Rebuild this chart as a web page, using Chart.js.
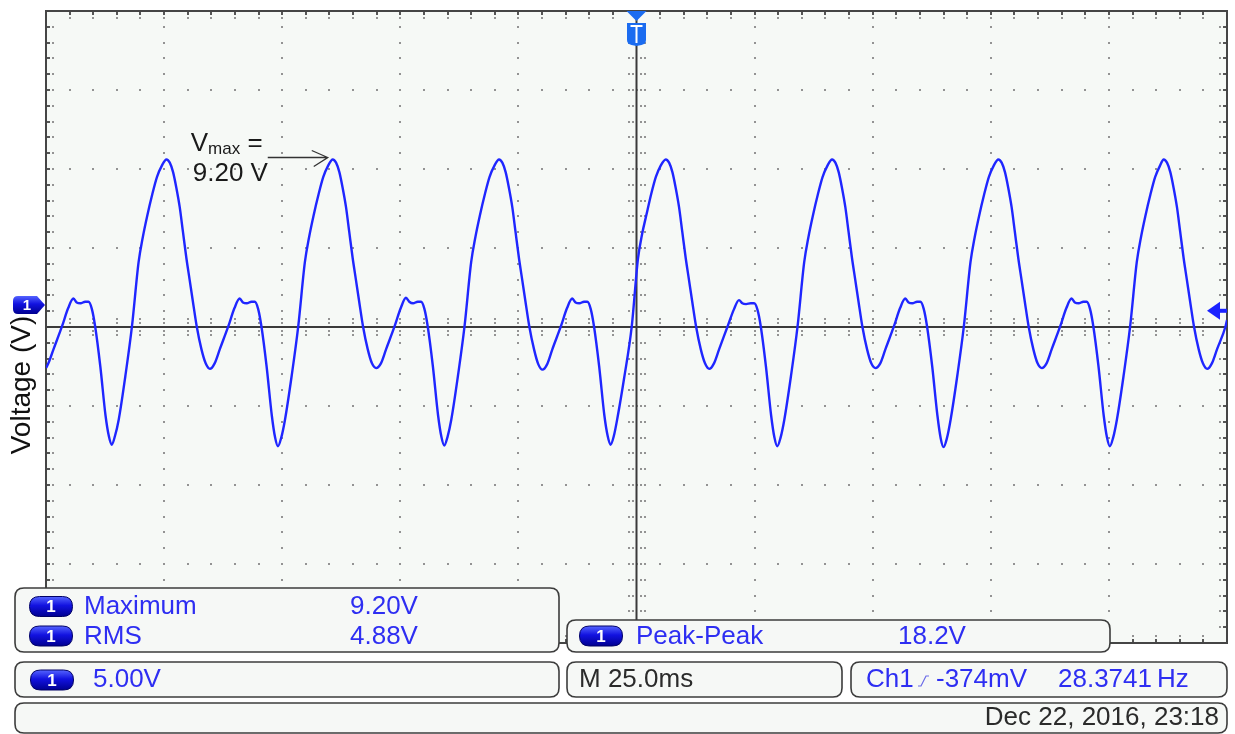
<!DOCTYPE html>
<html>
<head>
<meta charset="utf-8">
<script src="https://cdn.jsdelivr.net/npm/chart.js@4/dist/chart.umd.min.js"></script>
<style>
  html, body { margin: 0; padding: 0; background: #ffffff; }
  #wrap { width: 1235px; height: 734px; position: relative; }
</style>
</head>
<body>
<div id="wrap"><canvas id="scope" width="1235" height="734"></canvas></div>
<script>
// ---------------- data ----------------
// time (ms, trigger at 0) and channel-1 voltage (V), one line per signal cycle
const timeMs = [
  -125.0, -124.5, -123.4, -121.6, -120.3, -119.2, -118.5, -117.7, -116.7, -116.0, -115.3, -114.6, -113.5, -112.4, -111.7, -111.1, -110.4, -109.6, -108.2, -106.8, -105.4, -104.5, -103.6, -102.5, -101.5, -100.5,
  -99.5, -98.8, -98.1, -97.4, -96.7, -96.0, -95.3, -94.6, -93.9, -93.1, -92.1, -91.2, -90.3, -89.3, -88.2, -86.4, -85.1, -84.0, -83.3, -82.5, -81.5, -80.8, -80.1, -79.4, -78.3, -77.2, -76.5, -75.9, -75.2, -74.4, -73.0, -71.6, -70.2, -69.3, -68.4, -67.3, -66.3, -65.3,
  -64.3, -63.6, -62.9, -62.2, -61.5, -60.8, -60.1, -59.4, -58.7, -57.9, -56.9, -56.0, -55.1, -54.1, -53.0, -51.2, -49.9, -48.8, -48.1, -47.3, -46.3, -45.6, -44.9, -44.2, -43.1, -42.0, -41.3, -40.7, -40.0, -39.2, -37.8, -36.4, -35.0, -34.1, -33.2, -32.1, -31.1, -30.1,
  -29.1, -28.4, -27.7, -27.0, -26.3, -25.6, -24.9, -24.2, -23.5, -22.7, -21.7, -20.8, -19.9, -18.9, -17.8, -16.0, -14.7, -13.6, -12.9, -12.1, -11.1, -10.4, -9.7, -9.0, -7.9, -6.8, -6.1, -5.5, -4.8, -4.0, -2.6, -1.0, 0.3, 1.2, 2.1, 3.1, 4.1, 5.1,
  6.2, 6.9, 7.6, 8.3, 9.0, 9.7, 10.4, 11.1, 11.8, 12.6, 13.6, 14.5, 15.4, 16.4, 17.5, 19.3, 20.6, 21.7, 22.4, 23.2, 24.2, 24.9, 25.6, 26.3, 27.4, 28.5, 29.2, 29.8, 30.5, 31.3, 32.7, 34.1, 35.5, 36.4, 37.3, 38.4, 39.4, 40.4,
  41.4, 42.1, 42.8, 43.5, 44.2, 44.9, 45.6, 46.3, 47.0, 47.8, 48.8, 49.7, 50.6, 51.6, 52.7, 54.5, 55.8, 56.9, 57.6, 58.4, 59.4, 60.1, 60.8, 61.5, 62.6, 63.7, 64.4, 65.0, 65.7, 66.5, 67.9, 69.3, 70.7, 71.6, 72.5, 73.6, 74.6, 75.6,
  76.6, 77.3, 78.0, 78.7, 79.4, 80.1, 80.8, 81.5, 82.2, 83.0, 84.0, 84.9, 85.8, 86.8, 87.9, 89.7, 91.0, 92.1, 92.8, 93.6, 94.6, 95.3, 96.0, 96.7, 97.8, 98.9, 99.6, 100.2, 100.9, 101.7, 103.1, 104.5, 105.9, 106.8, 107.7, 108.8, 109.8, 110.8,
  111.6, 112.3, 113.0, 113.7, 114.4, 115.1, 115.8, 116.5, 117.2, 118.0, 119.0, 119.9, 120.8, 121.8, 122.9, 124.7, 125.0
];
const voltageV = [
  -4.0, -3.7, -2.8, -1.35, -0.2, 0.4, 0.15, 0.1, 0.2, 0.2, -0.25, -1.35, -3.9, -7.0, -8.3, -8.85, -8.3, -7.25, -4.5, -1.35, 2.7, 4.3, 5.6, 7.0, 8.1, 8.8,
  9.2, 9.0, 8.4, 7.4, 6.2, 4.6, 3.0, 1.6, 0.2, -1.35, -2.8, -3.7, -4.05, -3.7, -2.8, -1.35, -0.2, 0.4, 0.15, 0.1, 0.2, 0.2, -0.25, -1.35, -3.9, -7.0, -8.4, -8.95, -8.4, -7.25, -4.5, -1.35, 2.7, 4.3, 5.6, 7.0, 8.1, 8.8,
  9.2, 9.0, 8.4, 7.4, 6.2, 4.6, 3.0, 1.6, 0.2, -1.35, -2.8, -3.7, -4.0, -3.7, -2.8, -1.35, -0.2, 0.45, 0.2, 0.1, 0.2, 0.2, -0.25, -1.35, -3.9, -7.0, -8.35, -8.9, -8.35, -7.25, -4.5, -1.35, 2.7, 4.3, 5.6, 7.0, 8.1, 8.8,
  9.2, 9.0, 8.4, 7.4, 6.2, 4.6, 3.0, 1.6, 0.2, -1.35, -2.8, -3.75, -4.1, -3.75, -2.8, -1.35, -0.2, 0.4, 0.15, 0.1, 0.2, 0.2, -0.25, -1.35, -3.9, -7.0, -8.3, -8.85, -8.3, -7.1, -4.6, -1.35, 2.9, 4.5, 5.7, 7.0, 8.1, 8.8,
  9.2, 9.0, 8.4, 7.4, 6.2, 4.6, 3.0, 1.6, 0.2, -1.35, -2.8, -3.7, -4.05, -3.7, -2.8, -1.35, -0.3, 0.3, 0.1, 0.05, 0.1, 0.1, -0.3, -1.35, -3.9, -7.0, -8.4, -8.95, -8.4, -7.25, -4.5, -1.35, 2.7, 4.3, 5.6, 7.0, 8.1, 8.8,
  9.2, 9.0, 8.4, 7.4, 6.2, 4.6, 3.0, 1.6, 0.2, -1.35, -2.8, -3.7, -4.0, -3.7, -2.8, -1.35, -0.2, 0.4, 0.15, 0.1, 0.2, 0.2, -0.25, -1.35, -3.9, -7.0, -8.45, -9.0, -8.45, -7.25, -4.5, -1.35, 2.7, 4.3, 5.6, 7.0, 8.1, 8.8,
  9.2, 9.0, 8.4, 7.4, 6.2, 4.6, 3.0, 1.6, 0.2, -1.35, -2.8, -3.7, -4.0, -3.7, -2.8, -1.35, -0.2, 0.4, 0.15, 0.1, 0.2, 0.2, -0.25, -1.35, -3.9, -7.0, -8.4, -8.95, -8.4, -7.25, -4.5, -1.35, 2.7, 4.3, 5.6, 7.0, 8.1, 8.8,
  9.2, 9.0, 8.4, 7.4, 6.2, 4.6, 3.0, 1.6, 0.2, -1.35, -2.8, -3.7, -4.05, -3.7, -2.8, -1.35, -0.95
];

// screen geometry (values, not pixels): 25 ms/div x 10 div, 5 V/div x 8 div
const xRange = [-125, 125];
const yRange = [-21.4, 18.6];
const xDiv = 25, yDiv = 5, minorPerDiv = 5;

// texts
const yAxisTitle = 'Voltage (V)';
const measureLabels = ['Maximum', 'RMS', 'Peak-Peak'];
const measureValues = ['9.20V', '4.88V', '18.2V'];
const channelScale = '5.00V';
const timebase = 'M 25.0ms';
const trigChannel = 'Ch1';
const trigLevelText = '-374mV';
const trigLevelV = -0.374;
const freqValue = '28.3741';
const freqUnit = 'Hz';
const stamp = 'Dec 22, 2016, 23:18';
const annotMain = 'V', annotSub = 'max', annotEq = ' =', annotValue = '9.20 V';
const vmaxValue = 9.2, vmaxTime = -64.3;

// ---------------- drawing helpers ----------------
function rr(ctx, x, y, w, h, r) {
  ctx.beginPath();
  ctx.moveTo(x + r, y);
  ctx.lineTo(x + w - r, y); ctx.quadraticCurveTo(x + w, y, x + w, y + r);
  ctx.lineTo(x + w, y + h - r); ctx.quadraticCurveTo(x + w, y + h, x + w - r, y + h);
  ctx.lineTo(x + r, y + h); ctx.quadraticCurveTo(x, y + h, x, y + h - r);
  ctx.lineTo(x, y + r); ctx.quadraticCurveTo(x, y, x + r, y);
  ctx.closePath();
}
function blueGrad(ctx, y0, y1) {
  const g = ctx.createLinearGradient(0, y0, 0, y1);
  g.addColorStop(0, '#5565ff'); g.addColorStop(0.45, '#1212e0'); g.addColorStop(1, '#000090');
  return g;
}
function badge(ctx, cx, cy) {
  const w = 43, h = 20;
  rr(ctx, cx - w / 2, cy - h / 2, w, h, h / 2);
  ctx.fillStyle = blueGrad(ctx, cy - h / 2, cy + h / 2); ctx.fill();
  ctx.strokeStyle = '#000066'; ctx.lineWidth = 1; ctx.stroke();
  ctx.fillStyle = '#ffffff'; ctx.font = 'bold 17px "Liberation Sans"';
  ctx.textAlign = 'center'; ctx.textBaseline = 'middle';
  ctx.fillText('1', cx, cy + 1);
}
function panel(ctx, x, y, w, h) {
  rr(ctx, x, y, w, h, 9);
  ctx.fillStyle = '#f6f8f6'; ctx.fill();
  ctx.strokeStyle = '#3c3c3c'; ctx.lineWidth = 1.6; ctx.stroke();
}
function txt(ctx, s, x, y, color, align) {
  ctx.fillStyle = color; ctx.font = '26px "Liberation Sans"';
  ctx.textAlign = align || 'left'; ctx.textBaseline = 'middle';
  ctx.fillText(s, x, y);
  return ctx.measureText(s).width;
}

const scopePlugin = {
  id: 'scope',
  beforeDraw(chart) {
    const { ctx, chartArea: a, scales: { x, y } } = chart;
    ctx.save();
    ctx.fillStyle = '#ffffff'; ctx.fillRect(0, 0, chart.width, chart.height);
    ctx.fillStyle = '#f6f9f6'; ctx.fillRect(a.left, a.top, a.right - a.left, a.bottom - a.top);
    const nx = (xRange[1] - xRange[0]) / xDiv * minorPerDiv;
    const ny = (yRange[1] - yRange[0]) / yDiv * minorPerDiv;
    const xs = [], ys = [];
    for (let i = 0; i <= nx; i++) xs.push(x.getPixelForValue(xRange[0] + i * xDiv / minorPerDiv));
    for (let j = 0; j <= ny; j++) ys.push(y.getPixelForValue(yRange[0] + j * yDiv / minorPerDiv));
    const ic = nx / 2, jc = ny / 2;
    const xc = xs[ic], yc = ys[jc];
    const dot = (px, py) => ctx.fillRect(Math.round(px) - 1, Math.round(py) - 1, 2, 2);
    ctx.fillStyle = '#939393';
    for (let i = minorPerDiv; i < nx; i += minorPerDiv) {
      if (i === ic) continue;
      for (let j = 1; j < ny; j++) dot(xs[i], ys[j]);
    }
    for (let j = minorPerDiv; j < ny; j += minorPerDiv) {
      if (j === jc) continue;
      for (let i = 1; i < nx; i++) dot(xs[i], ys[j]);
    }
    for (let i = 1; i < nx; i++) {
      if (i === ic) continue;
      [-8, -4, 4, 8].forEach(d => dot(xs[i], yc + d));
    }
    for (let j = 1; j < ny; j++) {
      if (j === jc) continue;
      [-8, -4, 4, 8].forEach(d => dot(xc + d, ys[j]));
    }
    ctx.fillStyle = '#555555';
    for (let j = 1; j < ny; j++) {
      ctx.fillRect(a.left, Math.round(ys[j]) - 1, 4, 2);
      ctx.fillRect(a.right - 4, Math.round(ys[j]) - 1, 4, 2);
    }
    for (let i = 1; i < nx; i++) {
      ctx.fillRect(Math.round(xs[i]) - 1, a.top, 2, 4);
      ctx.fillRect(Math.round(xs[i]) - 1, a.bottom - 4, 2, 4);
    }
    ctx.fillStyle = '#939393';
    for (let j = 1; j < ny; j++) { dot(a.left + 7, ys[j]); dot(a.right - 7, ys[j]); }
    for (let i = 1; i < nx; i++) { dot(xs[i], a.top + 7); dot(xs[i], a.bottom - 7); }
    ctx.strokeStyle = '#3a3a3a'; ctx.lineWidth = 2;
    ctx.beginPath();
    ctx.moveTo(a.left, yc); ctx.lineTo(a.right, yc);
    ctx.moveTo(xc, a.top); ctx.lineTo(xc, a.bottom);
    ctx.stroke();
    ctx.strokeStyle = '#454545'; ctx.lineWidth = 2;
    ctx.strokeRect(a.left, a.top, a.right - a.left, a.bottom - a.top);
    ctx.restore();
  },
  afterDatasetsDraw(chart) {
    const { ctx, chartArea: a, scales: { x, y } } = chart;
    ctx.save();
    // trigger position marker (top, at t = 0)
    const xt = x.getPixelForValue(0);
    ctx.fillStyle = '#1b6cf0';
    ctx.beginPath();
    ctx.moveTo(xt - 10, a.top); ctx.lineTo(xt + 10, a.top); ctx.lineTo(xt, a.top + 10); ctx.closePath(); ctx.fill();
    ctx.beginPath();
    ctx.moveTo(xt - 9.5, a.top + 12); ctx.lineTo(xt + 9.5, a.top + 12);
    ctx.lineTo(xt + 9.5, a.top + 29); ctx.quadraticCurveTo(xt + 9.5, a.top + 33, xt + 5, a.top + 34);
    ctx.lineTo(xt, a.top + 35); ctx.lineTo(xt - 5, a.top + 34);
    ctx.quadraticCurveTo(xt - 9.5, a.top + 33, xt - 9.5, a.top + 29); ctx.closePath(); ctx.fill();
    ctx.fillStyle = '#ffffff';
    ctx.fillRect(xt - 6, a.top + 14, 12, 2);
    ctx.fillRect(xt - 1, a.top + 14, 2, 18);

    // channel 1 ground marker (left)
    const yg = y.getPixelForValue(0);
    ctx.beginPath();
    ctx.moveTo(18, yg - 9); ctx.lineTo(37, yg - 9); ctx.lineTo(45, yg); ctx.lineTo(37, yg + 9);
    ctx.lineTo(18, yg + 9); ctx.quadraticCurveTo(13, yg + 9, 13, yg + 4); ctx.lineTo(13, yg - 4);
    ctx.quadraticCurveTo(13, yg - 9, 18, yg - 9); ctx.closePath();
    ctx.fillStyle = blueGrad(ctx, yg - 9, yg + 9); ctx.fill();
    ctx.fillStyle = '#ffffff'; ctx.font = 'bold 15px "Liberation Sans"';
    ctx.textAlign = 'center'; ctx.textBaseline = 'middle'; ctx.fillText('1', 27, yg + 1);

    // trigger level marker (right)
    const yl = y.getPixelForValue(trigLevelV);
    ctx.fillStyle = '#1a22ff';
    ctx.beginPath(); ctx.moveTo(a.right - 20, yl); ctx.lineTo(a.right - 7, yl - 9); ctx.lineTo(a.right - 7, yl + 9); ctx.closePath(); ctx.fill();
    ctx.fillRect(a.right - 8, yl - 2, 8, 4);

    // V max annotation
    const px = x.getPixelForValue(vmaxTime), py = y.getPixelForValue(vmaxValue) - 2;
    ctx.strokeStyle = '#333333'; ctx.lineWidth = 1.3;
    ctx.beginPath();
    ctx.moveTo(px - 65, py); ctx.lineTo(px - 5, py);
    ctx.moveTo(px - 21, py - 7); ctx.lineTo(px - 5, py); ctx.lineTo(px - 19, py + 9);
    ctx.stroke();
    ctx.fillStyle = '#1a1a1a'; ctx.textAlign = 'left'; ctx.textBaseline = 'alphabetic';
    ctx.font = '26px "Liberation Sans"';
    const ax = px - 142;
    ctx.fillText(annotMain, ax, py - 7);
    const wV = ctx.measureText(annotMain).width;
    ctx.font = '17px "Liberation Sans"';
    ctx.fillText(annotSub, ax + wV, py - 4);
    const wS = ctx.measureText(annotSub).width;
    ctx.font = '26px "Liberation Sans"';
    ctx.fillText(annotEq, ax + wV + wS, py - 7);
    ctx.fillText(annotValue, ax + 2, py + 23);

    // y-axis title
    ctx.save();
    ctx.translate(22, 385); ctx.rotate(-Math.PI / 2);
    ctx.fillStyle = '#111111'; ctx.font = '28px "Liberation Sans"';
    ctx.textAlign = 'center'; ctx.textBaseline = 'middle';
    ctx.fillText(yAxisTitle, 0, 0);
    ctx.restore();

    // measurement / status panels
    const blue = '#2e2ef2', dark = '#2b2b2b';
    panel(ctx, 15, 588, 544, 64);
    badge(ctx, 51, 606.5); txt(ctx, measureLabels[0], 84, 607, blue); txt(ctx, measureValues[0], 350, 607, blue);
    badge(ctx, 51, 636); txt(ctx, measureLabels[1], 84, 636.5, blue); txt(ctx, measureValues[1], 350, 636.5, blue);
    panel(ctx, 567, 620, 543, 32);
    badge(ctx, 601, 636); txt(ctx, measureLabels[2], 636, 636.5, blue); txt(ctx, measureValues[2], 898, 636.5, blue);

    panel(ctx, 15, 662, 544, 35);
    badge(ctx, 52, 680); txt(ctx, channelScale, 93, 680, blue);
    panel(ctx, 567, 662, 275, 35);
    txt(ctx, timebase, 579, 680, dark);
    panel(ctx, 851, 662, 376, 35);
    txt(ctx, trigChannel, 866, 680, blue);
    ctx.strokeStyle = '#6a6ae8'; ctx.lineWidth = 1.2;
    ctx.beginPath(); ctx.moveTo(918, 686); ctx.lineTo(921, 686); ctx.lineTo(926, 676); ctx.lineTo(929, 676); ctx.stroke();
    txt(ctx, trigLevelText, 936, 680, blue);
    const wf = txt(ctx, freqValue, 1058, 680, blue);
    txt(ctx, freqUnit, 1058 + wf + 5, 680, blue);

    panel(ctx, 15, 703, 1212, 30);
    txt(ctx, stamp, 1219, 718, dark, 'right');
    ctx.restore();
  }
};

const points = timeMs.map((t, i) => ({ x: t, y: voltageV[i] }));

new Chart(document.getElementById('scope').getContext('2d'), {
  type: 'line',
  data: {
    datasets: [{
      label: 'Ch1',
      data: points,
      borderColor: '#1f26ff',
      borderWidth: 2.4,
      pointRadius: 0,
      fill: false,
      cubicInterpolationMode: 'monotone'
    }]
  },
  options: {
    responsive: false,
    animation: false,
    layout: { padding: { left: 46, right: 8, top: 11, bottom: 91 } },
    scales: {
      x: { type: 'linear', min: xRange[0], max: xRange[1], display: false },
      y: { type: 'linear', min: yRange[0], max: yRange[1], display: false }
    },
    plugins: { legend: { display: false }, tooltip: { enabled: false } }
  },
  plugins: [scopePlugin]
});
</script>
</body>
</html>
